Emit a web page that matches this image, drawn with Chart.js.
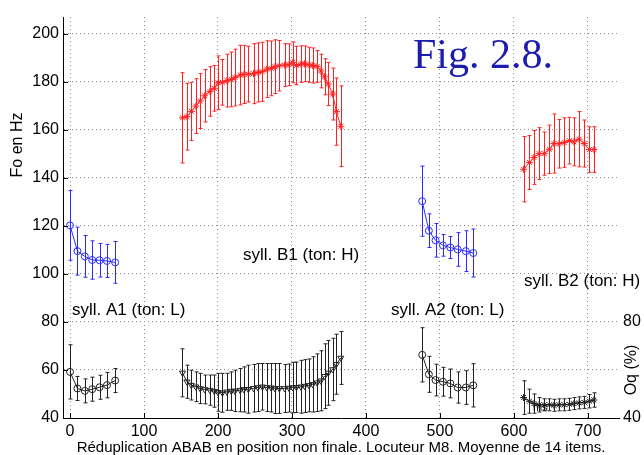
<!DOCTYPE html>
<html>
<head>
<meta charset="utf-8">
<script src="https://cdn.jsdelivr.net/npm/chart.js@4.4.1/dist/chart.umd.min.js"></script>
<style>
  html, body { margin: 0; padding: 0; background: #fff; }
  #wrap { width: 644px; height: 455px; }
</style>
</head>
<body>
<div id="wrap"><canvas id="c"></canvas></div>
<script>
// time axis (ms) and tick labels
const xTicks = [0, 100, 200, 300, 400, 500, 600, 700];
const yTicks = [40, 60, 80, 100, 120, 140, 160, 180, 200];
const oqTicks = [40, 80];

// syll. A1 (ton: L)
const a1Time = [0, 10, 20, 30, 40, 50, 61];
const a1Fo = [120.2, 109.5, 107.3, 105.8, 105.7, 105.4, 104.8];
const a1FoErr = [14.5, 10, 8.7, 8, 7, 6.9, 8.7];
const a1Oq = [59.2, 52.3, 51.3, 52.0, 52.8, 53.7, 55.6];
const a1OqErr = [11.3, 5, 5, 5, 5, 5.3, 5];

// syll. B1 (ton: H)
const b1Time = [152, 158, 164, 170, 176, 182, 189, 195, 200, 206, 212, 218, 223, 230, 235, 241, 248, 254, 260,
  266, 272, 277, 283, 290, 296, 301, 306, 312, 317, 323, 328, 334, 339, 344, 349, 355, 360, 366];
const b1Fo = [165.0, 165.5, 167.7, 169.9, 172.0, 174.2, 176.0, 177.3, 179.6, 179.8, 180.5, 181.0, 181.8, 182.8,
  183.1, 183.2, 183.4, 183.9, 184.2, 185.3, 185.6, 186.3, 186.7, 187.0, 187.1, 188.1, 186.8, 187.4, 187.5, 187.1,
  186.8, 186.4, 184.5, 182.1, 179.1, 174.9, 167.6, 161.5];
const b1FoErr = [18.8, 13.9, 12.1, 11.4, 11.4, 10.9, 10.3, 9.5, 11.2, 9.5, 11, 11.4, 11.8, 12.4, 12.1, 11.6, 12.5,
  12.3, 12.3, 11.8, 11.4, 11.2, 10.5, 8.9, 8.7, 8.5, 8, 7.6, 7.4, 7.3, 7.3, 6.6, 7, 7.5, 9, 10.8, 14, 16.8];
const b1Oq = [58.8, 55.1, 53.7, 53.0, 52.3, 51.9, 51.6, 51.2, 50.7, 50.5, 50.9, 51.2, 51.3, 51.6, 51.9, 52.0, 52.4,
  52.7, 53.0, 52.7, 52.6, 52.3, 52.3, 52.3, 52.5, 52.7, 52.8, 53.0, 53.3, 53.6, 54.0, 54.7, 55.5, 57.4, 58.8, 60.2,
  62.4, 65.0];
const b1OqErr = [10, 6.9, 6.2, 6.2, 6.3, 6, 6.3, 6.7, 7.9, 8.1, 7.7, 8, 8.6, 9, 9.4, 10, 9.9, 10, 9.7, 10, 10.1,
  10.4, 10.4, 10, 10, 10.5, 10.5, 11, 11, 11, 11.5, 12, 12.5, 13.5, 13.5, 13, 12.5, 11];

// syll. A2 (ton: L)
const a2Time = [476, 485, 494, 504, 514, 524, 535, 545];
const a2Fo = [130.3, 118.0, 114.0, 111.9, 111.0, 110.2, 109.5, 108.7];
const a2FoErr = [14.6, 7, 7, 4.5, 4.6, 7, 8.5, 10];
const a2Oq = [66.3, 58.2, 55.8, 55.1, 54.4, 52.7, 52.7, 53.6];
const a2OqErr = [11.3, 7.5, 6.6, 6, 6, 6.5, 7, 9];

// syll. B2 (ton: H)
const b2Time = [613, 621, 627, 634, 641, 648, 654, 661, 668, 675, 681, 688, 695, 702, 708];
const b2Fo = [143.6, 146.4, 148.5, 150.1, 150.1, 151.9, 154.3, 154.2, 154.7, 155.5, 155.0, 156.1, 154.3, 151.8, 151.8];
const b2FoErr = [13.6, 11.2, 11.2, 10.8, 9, 10.1, 12.3, 10.1, 10.3, 9.7, 10, 11.5, 9.8, 9.5, 9.5];
const b2Oq = [48.5, 47.0, 46.0, 45.5, 45.5, 45.5, 45.3, 45.5, 45.5, 45.7, 46.0, 46.3, 46.5, 47.0, 47.5];
const b2OqErr = [7, 5, 4, 3, 2.5, 2.5, 2.5, 2.5, 2.5, 2.5, 2.5, 2.5, 2.5, 2.8, 3];

const BLUE = '#2b2bff';
const RED = '#ff2020';
const BLACK = '#222';
const FONT = "'Liberation Sans', Arial, sans-serif";

const pts = (xs, ys) => xs.map((x, i) => ({ x: x, y: ys[i] }));

const series = (time, vals, errs, color, style, rot) => ({
  data: pts(time, vals),
  errors: errs,
  borderColor: color,
  borderWidth: 1,
  pointStyle: style,
  pointRotation: rot || 0,
  pointRadius: 3.5,
  pointBorderColor: color,
  pointBackgroundColor: 'rgba(0,0,0,0)',
  pointBorderWidth: 1,
  tension: 0,
  yAxisID: 'y'
});

const datasets = [
  series(a1Time, a1Fo, a1FoErr, BLUE, 'circle'),
  series(b1Time, b1Fo, b1FoErr, RED, 'star'),
  series(a2Time, a2Fo, a2FoErr, BLUE, 'circle'),
  series(b2Time, b2Fo, b2FoErr, RED, 'star'),
  series(a1Time, a1Oq, a1OqErr, BLACK, 'circle'),
  series(b1Time, b1Oq, b1OqErr, BLACK, 'triangle', 180),
  series(a2Time, a2Oq, a2OqErr, BLACK, 'circle'),
  series(b2Time, b2Oq, b2OqErr, BLACK, 'star')
];

// error bars with small caps, drawn through the chart scales
const errorBars = {
  id: 'errorBars',
  beforeDatasetsDraw(chart) {
    const { ctx, scales } = chart;
    ctx.save();
    ctx.lineWidth = 1;
    chart.data.datasets.forEach(ds => {
      ctx.strokeStyle = ds.borderColor;
      ds.data.forEach((p, i) => {
        const e = ds.errors[i];
        const x = Math.round(scales.x.getPixelForValue(p.x)) + 0.5;
        const y1 = scales.y.getPixelForValue(p.y + e);
        const y2 = scales.y.getPixelForValue(p.y - e);
        ctx.beginPath();
        ctx.moveTo(x, y1); ctx.lineTo(x, y2);
        ctx.moveTo(x - 2, y1); ctx.lineTo(x + 2, y1);
        ctx.moveTo(x - 2, y2); ctx.lineTo(x + 2, y2);
        ctx.stroke();
      });
    });
    ctx.restore();
  }
};

// matlab style inward ticks
const innerTicks = {
  id: 'innerTicks',
  afterDraw(chart) {
    const { ctx, chartArea: a, scales } = chart;
    ctx.save();
    ctx.strokeStyle = '#000';
    ctx.lineWidth = 1;
    ctx.beginPath();
    xTicks.forEach(v => {
      const x = Math.round(scales.x.getPixelForValue(v)) + 0.5;
      ctx.moveTo(x, a.bottom); ctx.lineTo(x, a.bottom - 5);
    });
    yTicks.forEach(v => {
      const y = Math.round(scales.y.getPixelForValue(v)) + 0.5;
      ctx.moveTo(a.left, y); ctx.lineTo(a.left + 5, y);
    });
    ctx.stroke();
    ctx.restore();
  }
};

const labels = {
  id: 'labels',
  afterDraw(chart) {
    const ctx = chart.ctx;
    ctx.save();
    ctx.fillStyle = '#000';
    ctx.textBaseline = 'middle';
    ctx.textAlign = 'left';
    ctx.font = '17px ' + FONT;
    ctx.fillText('syll. A1 (ton: L)', 72, 310);
    ctx.fillText('syll. B1 (ton: H)', 243, 255);
    ctx.fillText('syll. A2 (ton: L)', 391, 310);
    ctx.fillText('syll. B2 (ton: H)', 524, 281);
    ctx.font = '11px ' + FONT;
    ctx.fillText('ms', 533, 408);

    ctx.font = "42px 'Liberation Serif', 'Times New Roman', serif";
    ctx.fillStyle = '#1c1cb0';
    ctx.textBaseline = 'alphabetic';
    ctx.fillText('Fig. 2.8.', 413, 68);

    ctx.fillStyle = '#000';
    ctx.font = '16px ' + FONT;
    ctx.textAlign = 'center';
    ctx.textBaseline = 'middle';
    ctx.translate(18, 145);
    ctx.rotate(-Math.PI / 2);
    ctx.fillText('Fo en Hz', 0, 0);
    ctx.setTransform(1, 0, 0, 1, 0, 0);
    ctx.translate(632, 370);
    ctx.rotate(-Math.PI / 2);
    ctx.fillText('Oq (%)', 0, 0);
    ctx.restore();
  }
};

const gridStyle = { color: '#8a8a8a', lineWidth: 1, drawTicks: false };

new Chart(document.getElementById('c'), {
  type: 'line',
  data: { datasets: datasets },
  options: {
    responsive: true,
    maintainAspectRatio: false,
    animation: false,
    layout: { padding: { top: 17, left: 0, right: 0, bottom: 0 } },
    plugins: { legend: { display: false }, tooltip: { enabled: false } },
    scales: {
      x: {
        type: 'linear',
        min: -9.5,
        max: 742,
        afterBuildTicks: s => { s.ticks = xTicks.map(v => ({ value: v })); },
        afterFit: s => { s.height = 37; },
        grid: gridStyle,
        border: { display: true, color: '#000', width: 1, dash: [1, 3] },
        ticks: { color: '#000', font: { family: FONT, size: 16 }, padding: 4, maxRotation: 0 },
        title: {
          display: true,
          text: 'Réduplication ABAB en position non finale. Locuteur M8. Moyenne de 14 items.',
          color: '#000',
          font: { family: FONT, size: 15 },
          padding: { top: 0, bottom: -2 }
        }
      },
      y: {
        type: 'linear',
        position: 'left',
        min: 40,
        max: 207,
        afterBuildTicks: s => { s.ticks = yTicks.map(v => ({ value: v })); },
        afterFit: s => { s.width = 63; },
        grid: gridStyle,
        border: { display: true, color: '#000', width: 1, dash: [1, 3] },
        ticks: { color: '#000', font: { family: FONT, size: 16 }, padding: 4 }
      },
      y2: {
        type: 'linear',
        position: 'right',
        min: 40,
        max: 207,
        afterBuildTicks: s => { s.ticks = oqTicks.map(v => ({ value: v })); },
        afterFit: s => { s.width = 25; },
        grid: { display: false, drawTicks: false },
        border: { display: false },
        ticks: { color: '#000', font: { family: FONT, size: 16 }, padding: 4 }
      }
    }
  },
  plugins: [errorBars, innerTicks, labels]
});
</script>
</body>
</html>
